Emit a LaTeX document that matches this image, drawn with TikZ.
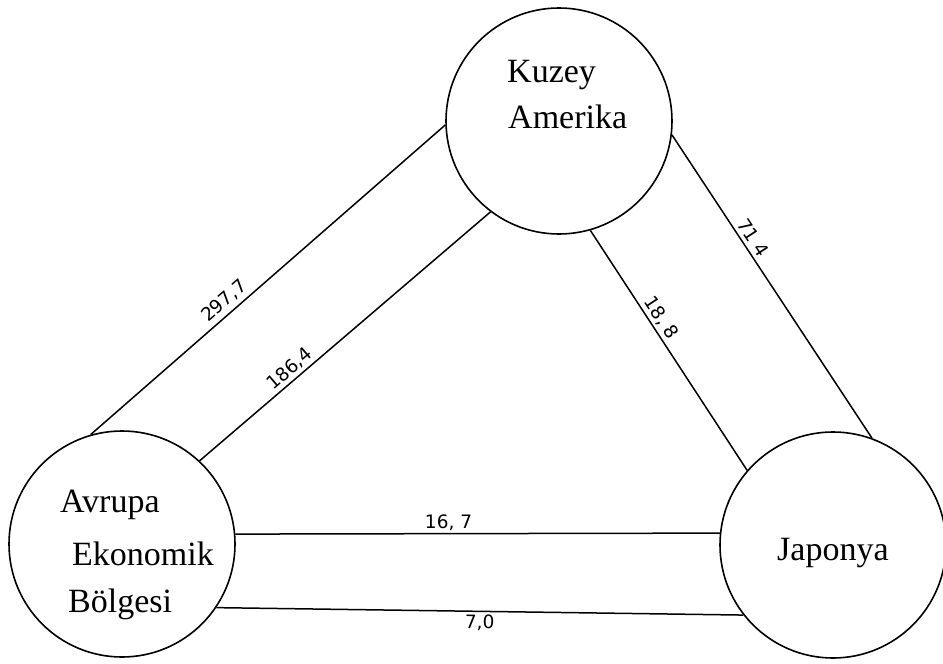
\documentclass[tikz,border=0pt]{standalone}
\usepackage{fontspec}
\setmainfont{Liberation Serif}
\newfontfamily\numfont{DejaVu Sans}
\begin{document}
\begin{tikzpicture}[x=1pt,y=-1pt,
  region/.style={circle,draw,line width=1.6pt,minimum size=226pt,inner sep=0pt},
  regiontext/.style={anchor=base west,inner sep=0pt,font=\fontsize{34}{40}\selectfont},
  link/.style={line width=1.5pt},
  amount/.style={sloped,inner sep=1pt,font=\numfont\fontsize{18.5}{20}\selectfont}]
\useasboundingbox (0,0) rectangle (943,664);

% the three trade regions
\node[region] (kuzey) at (559,121) {};
\node[region] (avrupa) at (122,544) {};
\node[region] (japonya) at (833,545) {};

% region names
\node[regiontext] (kuzey1) at (507,82) {Kuzey};
\node[regiontext] (kuzey2) at (508,128) {Amerika};
\node[regiontext] (avrupa1) at (60,512) {Avrupa};
\node[regiontext] (avrupa2) at (72,565) {Ekonomik};
\node[regiontext] (avrupa3) at (68,612) {Bölgesi};
\node[regiontext] (japonya1) at (777,560) {Japonya};

% trade flows between the regions
\draw[link] (avrupa.106.6) -- node[amount,above=3pt,pos=0.40] (l1) {297,7} (kuzey.182.6);
\draw[link] (avrupa.47.6) -- node[amount,above=1.5pt,pos=0.334] (l2) {186,4} (kuzey.-127.2);
\draw[link] (kuzey.-74.4) -- node[amount,above=1.5pt,pos=0.39] (l3) {18, 8} (japonya.139.6);
\draw[link] (kuzey.-7) -- node[amount,above=3pt,pos=0.36] (l4) {71\,\,4} (japonya.70);
\draw[link] (avrupa.5.6) -- node[amount,above=1pt,pos=0.44] (l5) {16, 7} (japonya.174);
\draw[link] (avrupa.-34.5) -- node[amount,below=2pt,pos=0.50] (l6) {7,0} (japonya.-142);
\end{tikzpicture}
\end{document}
